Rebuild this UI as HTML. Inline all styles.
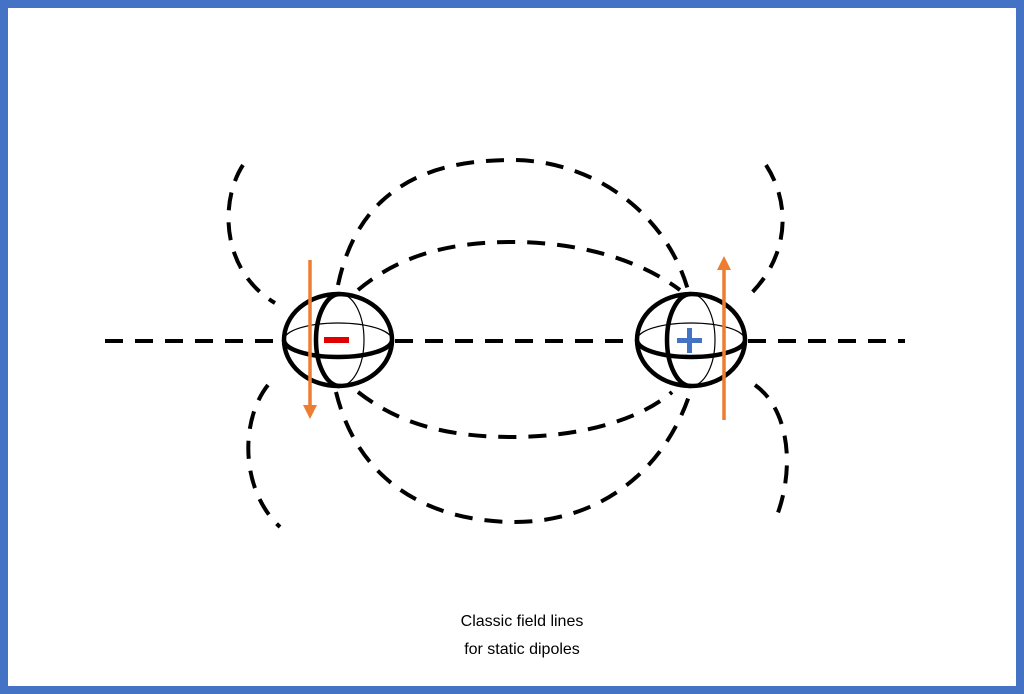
<!DOCTYPE html>
<html><head><meta charset="utf-8"><style>
html,body{margin:0;padding:0;background:#fff}
svg{display:block}
</style></head><body>
<svg width="1024" height="694" viewBox="0 0 1024 694" xmlns="http://www.w3.org/2000/svg">
<rect x="4" y="4" width="1016" height="686" fill="#fff" stroke="#4472C4" stroke-width="8"/>
<g fill="none" stroke="#000" stroke-width="4" stroke-dasharray="18 12">
<path d="M105 341 L283 341"/>
<path d="M395 341 L636 341"/>
<path d="M748 341 L905 341"/>
<path d="M338 285 C360 180 440 160 512 160 C590 160 665 210 688 290"/>
<path d="M358 290 C400 255 450 242 512 242 C580 242 640 260 680 290"/>
<path d="M336 392 C360 490 440 522 515 522 C600 522 665 470 690 393"/>
<path d="M358 392 C400 425 450 437 512 437 C580 437 640 420 672 392"/>
<path d="M243 165 C220 200 220 270 275 303"/>
<path d="M766 165 C795 210 785 265 744 300"/>
<path d="M268 385 C240 420 240 490 280 527"/>
<path d="M755 385 C790 410 795 470 776 518"/>
</g>
<g fill="none" stroke="#000">
<ellipse cx="338" cy="340" rx="54" ry="46" stroke-width="4.5"/>
<path d="M284 340 A54 17 0 0 1 392 340" stroke-width="1.2"/>
<path d="M284 340 A54 17 0 0 0 392 340" stroke-width="4.5"/>
<path d="M340 294 A24 46 0 0 0 340 386" stroke-width="4.5"/>
<path d="M340 294 A24 46 0 0 1 340 386" stroke-width="1.2"/>
<ellipse cx="691" cy="340" rx="54" ry="46" stroke-width="4.5"/>
<path d="M637 340 A54 17 0 0 1 745 340" stroke-width="1.2"/>
<path d="M637 340 A54 17 0 0 0 745 340" stroke-width="4.5"/>
<path d="M691 294 A24 46 0 0 0 691 386" stroke-width="4.5"/>
<path d="M691 294 A24 46 0 0 1 691 386" stroke-width="1.2"/>
</g>
<rect x="324" y="337" width="25" height="6" fill="#e00000"/>
<rect x="677" y="338" width="25" height="5" fill="#4472C4"/>
<rect x="687" y="328" width="5" height="25" fill="#4472C4"/>
<g stroke="#ED7D31" stroke-width="3.5" fill="#ED7D31">
<line x1="310" y1="260" x2="310" y2="408"/>
<polygon points="303,405 317,405 310,419" stroke="none"/>
<line x1="724" y1="420" x2="724" y2="267"/>
<polygon points="717,270 731,270 724,256" stroke="none"/>
</g>
<text x="522" y="626" font-family="Liberation Sans, sans-serif" font-size="16" text-anchor="middle" fill="#000">Classic field lines</text>
<text x="522" y="654" font-family="Liberation Sans, sans-serif" font-size="16" text-anchor="middle" fill="#000">for static dipoles</text>
</svg>
</body></html>
